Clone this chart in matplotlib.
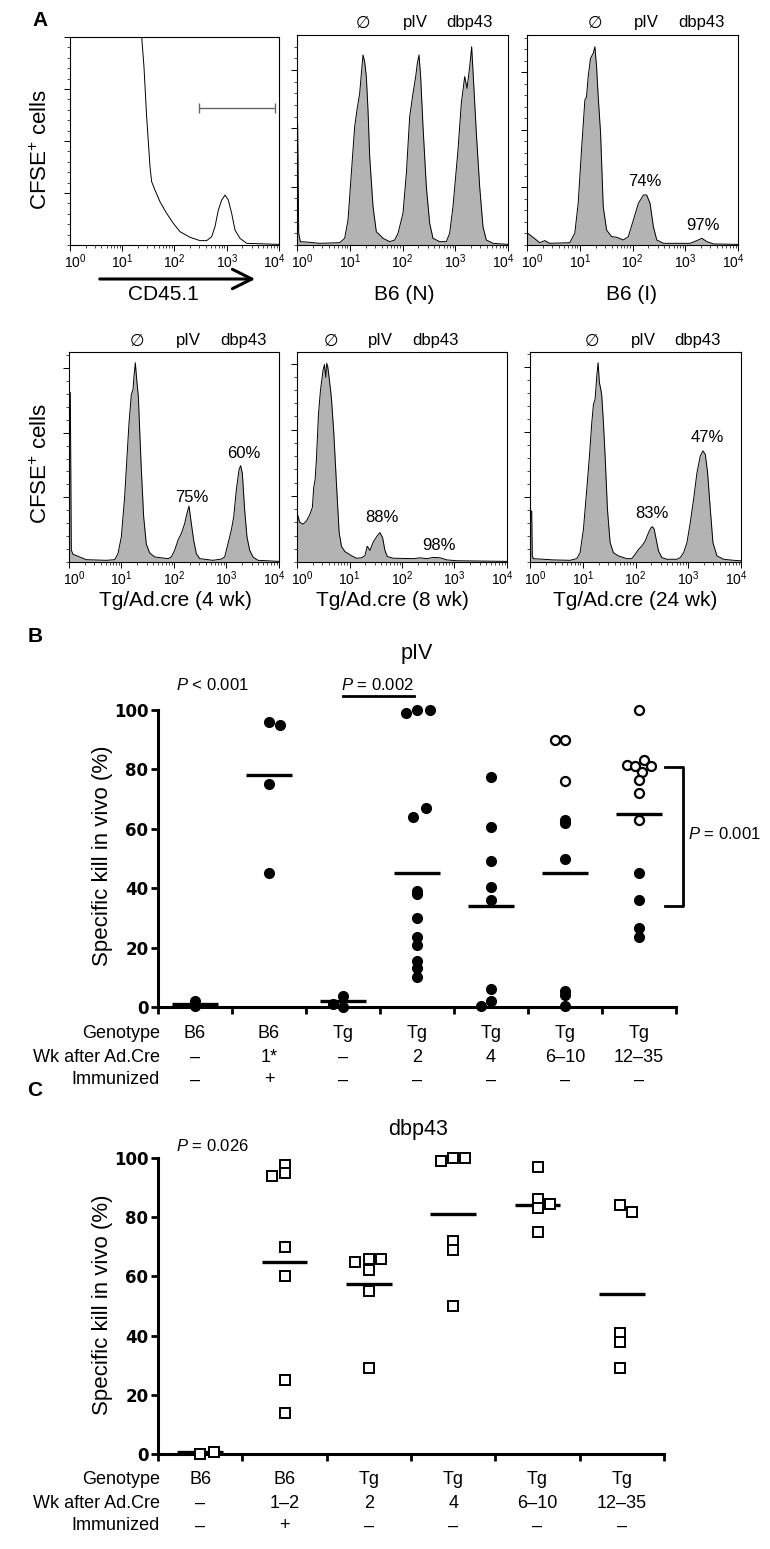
import numpy as np
import matplotlib
matplotlib.use('Agg')
import matplotlib.pyplot as plt
from matplotlib.ticker import FixedLocator, NullFormatter, LogLocator
from matplotlib.patches import FancyArrowPatch
import matplotlib.transforms as mtransforms

plt.rcParams['font.family'] = ['Liberation Sans', 'DejaVu Sans']
plt.rcParams['mathtext.fontset'] = 'custom'
plt.rcParams['mathtext.rm'] = 'Liberation Sans'
plt.rcParams['mathtext.it'] = 'Liberation Sans:italic'
plt.rcParams['mathtext.bf'] = 'Liberation Sans:bold'

# ---------------- DATA ----------------
# Panel A histograms: (log10 fluorescence, % of axis height)
hist_cd45 = [(0, 100), (1.372, 100), (1.416, 85.6), (1.467, 61.6), (1.531, 37.6), (1.563, 30.4),
             (1.627, 26.4), (1.722, 20.8), (1.850, 15.2), (1.978, 10.4), (2.105, 6.4), (2.297, 3.7),
             (2.488, 2.1), (2.616, 2.1), (2.711, 4.0), (2.775, 8.8), (2.839, 16.8), (2.903, 21.6),
             (2.967, 24.0), (3.030, 21.6), (3.094, 15.2), (3.158, 7.2), (3.254, 3.2), (3.381, 0.8),
             (4.0, 0.3)]
gate_cd45 = [295, 8300]
gate_height = 65.9

hist_b6n = [(0, 0.3), (0.013, 57.1), (0.032, 5.6), (0.063, 1.6), (0.24, 1.3), (0.43, 0.8), (0.809, 1.1),
            (0.904, 3.2), (0.967, 11.9), (1.030, 34.1), (1.093, 56.3), (1.137, 64.3), (1.188, 72.2),
            (1.220, 81.7), (1.251, 90.5), (1.283, 87.3), (1.314, 80.2), (1.346, 64.3), (1.378, 42.1),
            (1.441, 18.3), (1.504, 6.3), (1.567, 4.8), (1.630, 3.2), (1.757, 1.6), (1.852, 2.4),
            (1.915, 5.6), (2.009, 15.1), (2.073, 34.1), (2.136, 61.1), (2.199, 72.2), (2.250, 80.2),
            (2.281, 86.5), (2.313, 90.5), (2.344, 80.2), (2.389, 56.3), (2.452, 27.8), (2.515, 10.3),
            (2.578, 3.2), (2.705, 1.6), (2.831, 1.6), (2.894, 5.6), (2.957, 18.3), (3.052, 45.2),
            (3.115, 67.5), (3.179, 80.2), (3.223, 74.6), (3.274, 84.9), (3.311, 94.4), (3.349, 77.0),
            (3.400, 53.2), (3.463, 27.8), (3.526, 8.7), (3.589, 2.4), (3.716, 0.8), (4.0, 0.3)]

hist_b6i = [(0, 0.3), (0.013, 5.6), (0.114, 3.7), (0.241, 1.1), (0.336, 2.1), (0.431, 0.8), (0.811, 1.1),
            (0.906, 5.6), (0.970, 19.8), (1.033, 45.2), (1.097, 69.0), (1.128, 70.6), (1.160, 80.2),
            (1.204, 88.9), (1.255, 91.3), (1.287, 94.4), (1.319, 84.9), (1.350, 70.6), (1.395, 53.2),
            (1.445, 18.3), (1.509, 7.1), (1.604, 4.0), (1.699, 3.7), (1.826, 2.4), (1.921, 4.0),
            (2.016, 11.9), (2.111, 19.8), (2.206, 23.8), (2.269, 23.8), (2.333, 19.8), (2.396, 8.7),
            (2.460, 2.4), (2.586, 0.8), (3.093, 0.8), (3.220, 2.1), (3.315, 3.2), (3.410, 1.6),
            (3.537, 0.5), (4.0, 0.3)]

hist_tg4 = [(0, 0.3), (0.006, 81.3), (0.025, 80.5), (0.044, 5.6), (0.076, 3.7), (0.203, 2.4), (0.330, 1.1),
            (0.711, 0.8), (0.870, 1.1), (0.933, 4.0), (0.997, 12.0), (1.060, 31.1), (1.105, 50.2),
            (1.143, 66.2), (1.187, 79.7), (1.219, 82.1), (1.238, 88.5), (1.263, 94.9), (1.295, 85.3),
            (1.321, 78.9), (1.346, 63.0), (1.378, 43.9), (1.422, 21.5), (1.473, 8.5), (1.537, 4.3),
            (1.632, 2.4), (1.886, 1.6), (1.949, 2.4), (2.013, 5.6), (2.076, 10.4), (2.140, 13.6),
            (2.203, 18.3), (2.254, 23.9), (2.286, 26.6), (2.330, 18.3), (2.375, 10.4), (2.425, 4.0),
            (2.489, 1.6), (2.743, 0.8), (2.902, 1.4), (2.965, 2.4), (3.029, 8.8), (3.092, 15.2),
            (3.137, 21.5), (3.187, 34.3), (3.238, 43.9), (3.270, 45.9), (3.302, 42.3), (3.346, 24.7),
            (3.390, 12.0), (3.441, 5.6), (3.505, 2.4), (3.600, 0.8), (4.0, 0.3)]

hist_tg8 = [(0, 0.3), (0.013, 22.5), (0.051, 19.0), (0.115, 18.0), (0.178, 19.5), (0.242, 22.5),
            (0.293, 26.0), (0.318, 35.5), (0.344, 39.0), (0.369, 48.5), (0.408, 70.0), (0.446, 81.5),
            (0.497, 91.5), (0.522, 94.0), (0.548, 88.0), (0.567, 94.6), (0.586, 93.0), (0.611, 88.0),
            (0.656, 78.0), (0.701, 61.5), (0.752, 37.0), (0.803, 14.0), (0.847, 7.5), (0.911, 5.0),
            (0.975, 4.0), (1.038, 3.0), (1.134, 1.8), (1.229, 2.0), (1.293, 3.0), (1.338, 7.5),
            (1.389, 5.5), (1.452, 9.5), (1.529, 12.5), (1.580, 14.0), (1.631, 11.5), (1.675, 5.5),
            (1.720, 2.6), (1.834, 1.8), (2.217, 1.6), (2.344, 2.0), (2.471, 1.6), (2.599, 2.2),
            (2.726, 2.0), (2.854, 1.0), (3.045, 0.6), (4.0, 0.3)]

hist_tg24 = [(0, 0.3), (0.013, 24.3), (0.032, 24.3), (0.044, 2.9), (0.063, 1.6), (0.443, 1.0), (0.759, 0.8),
             (0.886, 1.6), (0.949, 4.4), (1.013, 15.6), (1.076, 34.6), (1.127, 50.5), (1.171, 66.3),
             (1.203, 75.1), (1.234, 77.5), (1.266, 88.6), (1.291, 94.9), (1.316, 85.4), (1.342, 82.2),
             (1.361, 79.0), (1.392, 66.3), (1.430, 47.3), (1.468, 25.1), (1.519, 9.2), (1.582, 4.4),
             (1.677, 2.9), (1.835, 1.6), (1.930, 1.6), (1.994, 3.7), (2.057, 6.0), (2.120, 7.6),
             (2.184, 10.0), (2.247, 14.0), (2.291, 16.3), (2.323, 16.8), (2.354, 15.6), (2.392, 10.8),
             (2.437, 5.2), (2.500, 2.1), (2.595, 1.3), (2.785, 1.3), (2.848, 2.1), (2.911, 4.4),
             (2.975, 9.2), (3.038, 18.7), (3.101, 29.8), (3.165, 42.5), (3.228, 50.5), (3.278, 52.9),
             (3.323, 51.3), (3.367, 42.5), (3.418, 25.1), (3.468, 9.2), (3.544, 2.9), (3.671, 1.3),
             (3.861, 0.8), (4.0, 0.6)]

hist_titles = ['CD45.1', 'B6 (N)', 'B6 (I)', 'Tg/Ad.cre (4 wk)', 'Tg/Ad.cre (8 wk)', 'Tg/Ad.cre (24 wk)']
peak_names = ['\u2205', 'pIV', 'dbp43']
decade_labels = [r'$10^{%d}$' % i for i in range(5)]
pct_labels = {'B6 (I)': ['74%', '97%'], 'Tg/Ad.cre (4 wk)': ['75%', '60%'],
              'Tg/Ad.cre (8 wk)': ['88%', '98%'], 'Tg/Ad.cre (24 wk)': ['83%', '47%']}

# Panel B (pIV)
pIV_genotype = ['B6', 'B6', 'Tg', 'Tg', 'Tg', 'Tg', 'Tg']
pIV_weeks = ['\u2013', '1*', '\u2013', '2', '4', '6\u201310', '12\u201335']
pIV_immunized = ['\u2013', '+', '\u2013', '\u2013', '\u2013', '\u2013', '\u2013']
pIV_filled = [[1.9, 0.2], [96, 95, 75, 45], [1.1, 3.6, 0],
              [99, 100, 100, 64, 67, 39, 38, 30, 23.5, 21, 15.5, 13, 10],
              [77.5, 60.5, 49, 40.5, 36, 6, 2, 0.3],
              [63, 62, 50, 5.5, 4, 0.2],
              [45, 36, 26.5, 23.5]]
pIV_open = [[], [], [], [], [], [90, 90, 76], [100, 81.5, 81, 83, 81, 79, 76.5, 72, 63]]
pIV_means = [1.1, 78, 2.0, 45, 34, 45, 65]

# Panel C (dbp43)
dbp_genotype = ['B6', 'B6', 'Tg', 'Tg', 'Tg', 'Tg']
dbp_weeks = ['\u2013', '1\u20132', '2', '4', '6\u201310', '12\u201335']
dbp_immunized = ['\u2013', '+', '\u2013', '\u2013', '\u2013', '\u2013']
dbp_values = [[0, 0.8], [94, 97.7, 95, 70, 60, 25, 14], [64.7, 65.8, 65.8, 62, 55, 29],
              [99, 100, 100, 72, 69, 50], [97, 86, 83, 84.6, 75], [84, 81.6, 41, 38, 29]]
dbp_means = [0.6, 64.7, 57.4, 81.1, 84.2, 54.1]

# ---------------- LAYOUT (point spreading inside each column) ----------------
pIV_filled_dx = [[0, 0], [0, 0.15, 0, 0], [-0.13, 0, 0],
                 [-0.145, 0, 0.17, -0.06, 0.12, 0, 0, 0, 0, 0, 0, 0, 0],
                 [0, 0, 0, 0, 0, 0, 0, -0.13], [0] * 6, [0] * 4]
pIV_open_dx = [[], [], [], [], [], [-0.13, 0, 0], [0, -0.16, -0.05, 0.07, 0.16, 0.045, 0, 0, 0]]
dbp_dx = [[0, 0.16], [-0.15, 0, 0, 0, 0, 0, 0], [-0.16, 0, 0.15, 0, 0, 0],
          [-0.145, 0, 0.145, 0, 0, 0], [0, 0, 0, 0.145, 0], [-0.02, 0.125, -0.02, -0.02, -0.02]]

W, H = 770, 1549
fig = plt.figure(figsize=(W / 100, H / 100), dpi=100)


def box(l, t, r, b):
    return [l / W, 1 - b / H, (r - l) / W, (b - t) / H]


def ftext(x, y, s, **kw):
    kw.setdefault('ha', 'center')
    kw.setdefault('va', 'center')
    fig.text(x / W, 1 - y / H, s, **kw)


GRAY = '#b3b3b3'


def hist_axes(rect, data, filled, ystep):
    ax = fig.add_axes(box(*rect))
    lx, pct = zip(*data)
    x = 10 ** np.array(lx)
    if filled:
        ax.fill_between(x, pct, 0, color=GRAY, lw=0)
    ax.plot(x, pct, color='k', lw=0.7)
    ax.set_xscale('log')
    ax.set_xlim(1, 1e4)
    ax.set_ylim(0, 100)
    dec = [1, 10, 100, 1000, 10000]
    ax.xaxis.set_major_locator(FixedLocator(dec))
    ax.xaxis.set_major_formatter(NullFormatter())
    ax.xaxis.set_minor_locator(LogLocator(base=10, subs=np.arange(2, 10)))
    ax.xaxis.set_minor_formatter(NullFormatter())
    ax.yaxis.set_major_locator(FixedLocator(np.arange(ystep, 100.1, ystep)))
    ax.yaxis.set_minor_locator(FixedLocator(np.arange(0, 100.1, ystep / 5)))
    ax.yaxis.set_major_formatter(NullFormatter())
    ax.tick_params(which='major', direction='out', length=4, width=0.7)
    ax.tick_params(which='minor', direction='out', length=2, width=0.5)
    for s in ax.spines.values():
        s.set_linewidth(0.8)
    shifts = [3.5, 0, 0, 0, -3.5]
    for d, lab, dx in zip(dec, decade_labels, shifts):
        ax.annotate(lab, (d, 0), xycoords=('data', 'axes fraction'), xytext=(dx, -5),
                    textcoords='offset points', ha='center', va='top', size=10)
    return ax


ax1 = hist_axes((70, 37, 279, 245), hist_cd45, False, 25)
ax1.hlines(gate_height, gate_cd45[0], gate_cd45[1], color='#666666', lw=1.0)
ax1.vlines(gate_cd45, gate_height - 2.2, gate_height + 2.2, color='#666666', lw=1.0)
ax2 = hist_axes((297, 35, 508, 245), hist_b6n, True, 27.8)
ax3 = hist_axes((527, 35, 738, 245), hist_b6i, True, 27.4)
ax4 = hist_axes((69, 352, 279, 562), hist_tg4, True, 30.8)
ax5 = hist_axes((297, 352, 507, 562), hist_tg8, True, 31.5)
ax6 = hist_axes((530, 352, 741, 562), hist_tg24, True, 31.0)

# arrow under CD45.1 plot
fig.add_artist(FancyArrowPatch((97 / W, 1 - 279 / H), (258 / W, 1 - 279 / H), transform=fig.transFigure,
                               arrowstyle='->,head_length=0.7,head_width=0.35', mutation_scale=20,
                               lw=2.2, color='k'))

# panel A text
ftext(40, 21, 'A', size=15, weight='bold')
ftext(41, 149, 'CFSE$^{+}$ cells', size=16, rotation=90)
ftext(41, 463, 'CFSE$^{+}$ cells', size=16, rotation=90)
for (x, y), s in zip([(163, 294), (404, 294), (631, 294), (175, 600), (392, 600), (635, 600)], hist_titles):
    ftext(x, y, s, size=15)
for xs, y in [((363, 415, 469), 23), ((595, 646, 701), 23), ((137, 188, 243), 341),
              ((331, 380, 435), 341), ((592, 643, 697), 341)]:
    for x, s in zip(xs, peak_names):
        ftext(x, y, s, size=12)
pct_pos = {'B6 (I)': [(645, 182), (703, 226)], 'Tg/Ad.cre (4 wk)': [(192, 497), (244, 454)],
           'Tg/Ad.cre (8 wk)': [(382, 517), (439, 545)], 'Tg/Ad.cre (24 wk)': [(652, 514), (707, 437)]}
for k, labs in pct_labels.items():
    for (x, y), s in zip(pct_pos[k], labs):
        ftext(x, y, s, size=12)


def style_dot_axes(ax, n):
    ax.set_xlim(0, n)
    ax.set_ylim(0, 100)
    for s in ['top', 'right']:
        ax.spines[s].set_visible(False)
    for s in ['left', 'bottom']:
        ax.spines[s].set_linewidth(2.2)
    ax.set_xticks(np.arange(n + 1))
    ax.set_xticklabels([])
    ax.set_yticks(np.arange(0, 101, 20))
    ax.set_yticklabels([str(v) for v in range(0, 101, 20)], fontfamily='DejaVu Sans',
                       fontweight='bold', fontsize=12)
    ax.tick_params(axis='both', direction='out', length=5, width=2, pad=2)


# ---------------- Panel B ----------------
axB = fig.add_axes(box(158, 710, 676, 1007))
style_dot_axes(axB, 7)
cB = np.arange(7) + 0.5
axB.hlines(pIV_means, cB - 0.31, cB + 0.31, color='k', lw=2.4, zorder=3)
for i in range(7):
    xs = cB[i] + np.array(pIV_filled_dx[i])
    axB.plot(xs, pIV_filled[i], 'o', ms=7, color='k', mec='k', clip_on=False, zorder=4)
    if pIV_open[i]:
        xo = cB[i] + np.array(pIV_open_dx[i])
        axB.plot(xo, pIV_open[i], 'o', ms=6.5, mfc='white', mec='k', mew=1.6, clip_on=False, zorder=4)
axB.text(3.5, 119, 'pIV', ha='center', va='center', size=15.5)
axB.text(0.73, 108.4, r'$P$ < 0.001', ha='center', va='center', size=12)
axB.text(2.97, 108.4, r'$P$ = 0.002', ha='center', va='center', size=12)
axB.plot([2.5, 3.46], [104.7, 104.7], color='k', lw=2, clip_on=False)
axB.plot([6.85, 7.09, 7.09, 6.85], [80.9, 80.9, 33.9, 33.9], color='k', lw=2, clip_on=False)
axB.text(7.16, 58.4, r'$P$ = 0.001', ha='left', va='center', size=12)
ftext(35, 637, 'B', size=15, weight='bold')
ftext(103, 856, 'Specific kill in vivo (%)', size=16, rotation=90)

trB = mtransforms.blended_transform_factory(axB.transData, fig.transFigure)
for row, (lab, vals) in enumerate(zip(['Genotype', 'Wk after Ad.Cre', 'Immunized'],
                                      [pIV_genotype, pIV_weeks, pIV_immunized])):
    y = 1 - [1033, 1057, 1080][row] / H
    fig.text(160 / W, y, lab, ha='right', va='center', size=13)
    for c, v in zip(cB, vals):
        axB.text(c, y, v, transform=trB, ha='center', va='center', size=13)

# ---------------- Panel C ----------------
axC = fig.add_axes(box(158, 1158, 664, 1454))
style_dot_axes(axC, 6)
cC = np.arange(6) + 0.5
axC.hlines(dbp_means, cC - 0.27, cC + 0.27, color='k', lw=2.4, zorder=3)
for i in range(6):
    xs = cC[i] + np.array(dbp_dx[i])
    axC.plot(xs, dbp_values[i], 's', ms=6.5, mfc='white', mec='k', mew=1.4, clip_on=False, zorder=4)
axC.text(3.08, 109.5, 'dbp43', ha='center', va='center', size=15.5)
axC.text(0.64, 104, r'$P$ = 0.026', ha='center', va='center', size=12)
ftext(35, 1090, 'C', size=15, weight='bold')
ftext(103, 1305, 'Specific kill in vivo (%)', size=16, rotation=90)

trC = mtransforms.blended_transform_factory(axC.transData, fig.transFigure)
for row, (lab, vals) in enumerate(zip(['Genotype', 'Wk after Ad.Cre', 'Immunized'],
                                      [dbp_genotype, dbp_weeks, dbp_immunized])):
    y = 1 - [1479, 1503, 1526][row] / H
    fig.text(160 / W, y, lab, ha='right', va='center', size=13)
    for c, v in zip(cC, vals):
        axC.text(c, y, v, transform=trC, ha='center', va='center', size=13)

fig.savefig('out.png', dpi=100)
